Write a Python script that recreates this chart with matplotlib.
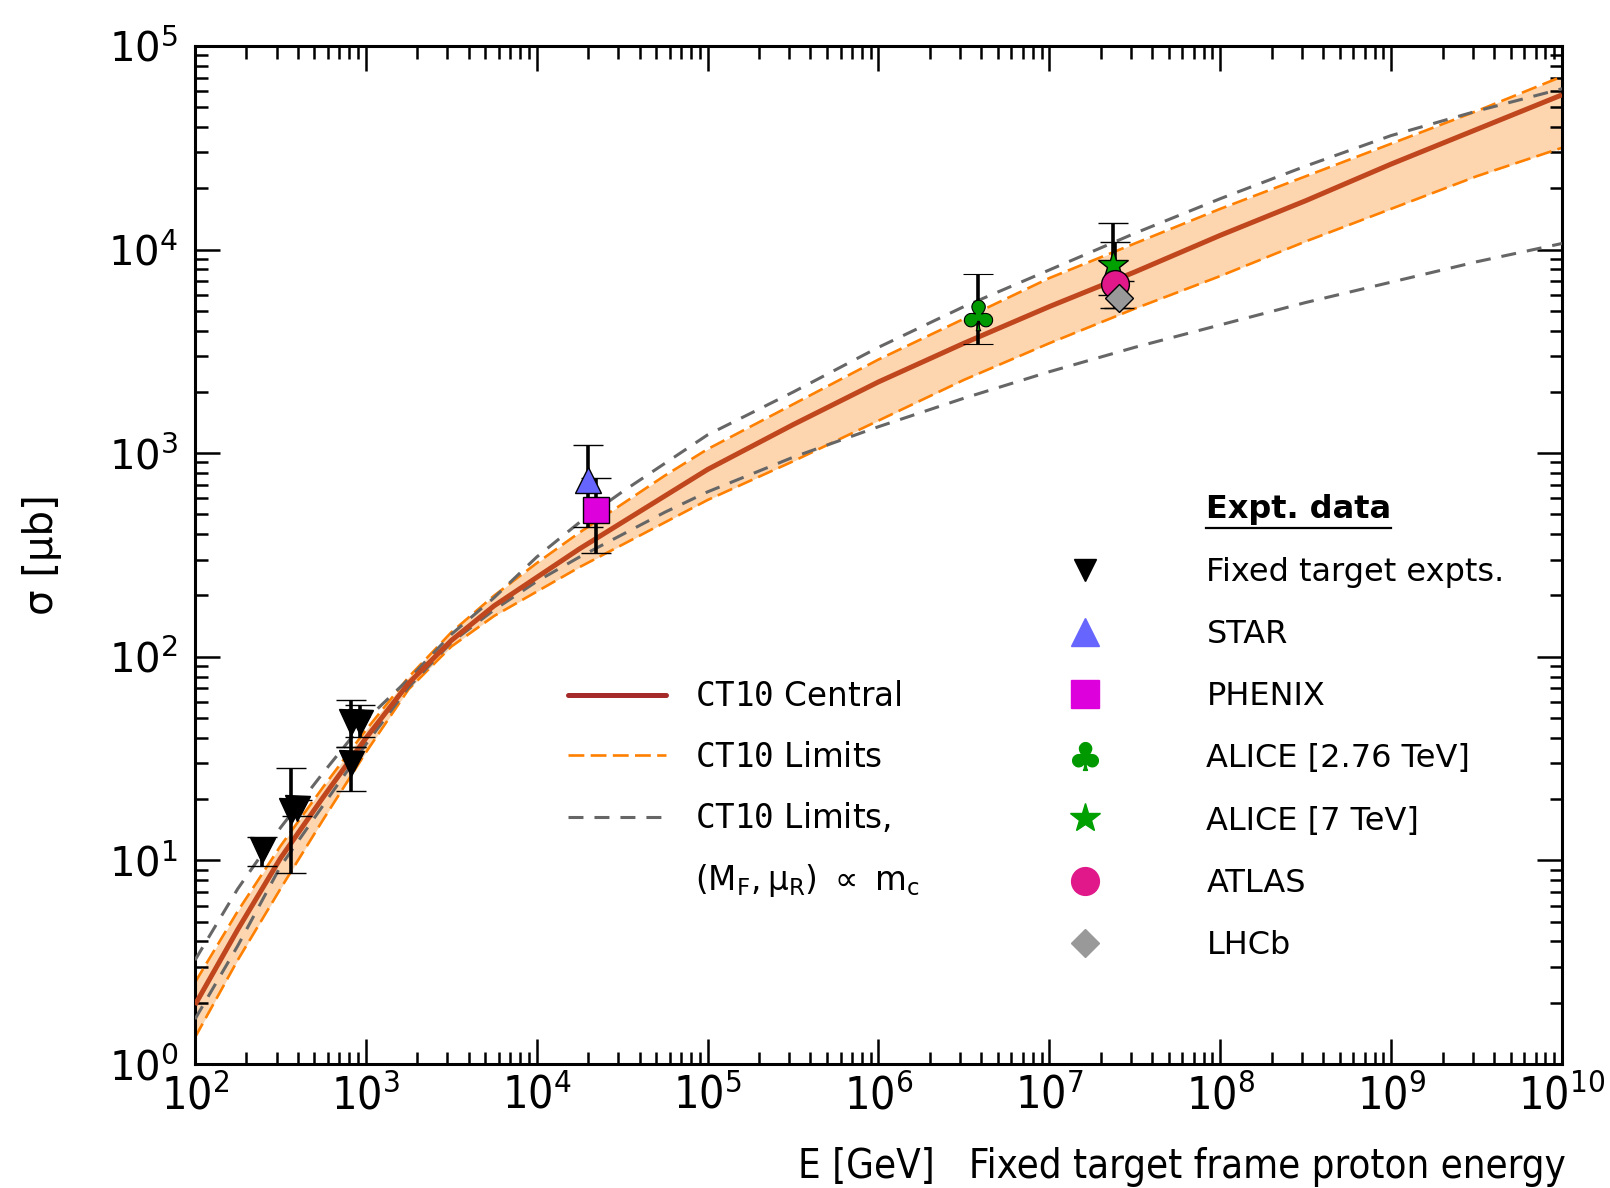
import os
import numpy as np
import matplotlib
matplotlib.use("Agg")
import matplotlib.pyplot as plt
from matplotlib import font_manager as fm
from matplotlib.lines import Line2D
from matplotlib.ticker import LogLocator, NullFormatter

# ---------------- data ----------------
log10_E = [2.0, 2.25, 2.5, 2.75, 3.0, 3.25, 3.5, 3.75, 4.0, 4.25, 4.5, 4.75, 5.0,
           5.5, 6.0, 6.5, 7.0, 7.5, 8.0, 8.5, 9.0, 9.5, 10.0]
log10_central = [0.29, 0.66, 1.01, 1.31, 1.60, 1.87, 2.08, 2.25, 2.39, 2.53, 2.66, 2.79, 2.92,
                 3.14, 3.35, 3.54, 3.72, 3.89, 4.07, 4.24, 4.42, 4.59, 4.76]
log10_lim_lo = [0.13, 0.51, 0.86, 1.20, 1.53, 1.84, 2.05, 2.20, 2.32, 2.44, 2.55, 2.66, 2.77,
                2.96, 3.16, 3.36, 3.54, 3.71, 3.87, 4.04, 4.20, 4.36, 4.50]
log10_lim_hi = [0.40, 0.75, 1.07, 1.36, 1.64, 1.90, 2.12, 2.30, 2.46, 2.61, 2.75, 2.89, 3.02,
                3.24, 3.46, 3.66, 3.86, 4.03, 4.20, 4.36, 4.52, 4.68, 4.85]
log10_mc_lo = [0.22, 0.58, 0.97, 1.27, 1.57, 1.85, 2.07, 2.23, 2.37, 2.49, 2.60, 2.71, 2.81,
               2.98, 3.13, 3.27, 3.40, 3.52, 3.63, 3.74, 3.84, 3.94, 4.03]
log10_mc_hi = [0.51, 0.86, 1.16, 1.43, 1.69, 1.89, 2.11, 2.29, 2.49, 2.66, 2.81, 2.95, 3.09,
               3.30, 3.52, 3.72, 3.90, 4.08, 4.25, 4.41, 4.56, 4.68, 4.79]

# fixed target experiments
ft_E = [247, 365, 395, 815, 815, 922]
ft_sigma = [11.2, 17.5, 18.0, 30.0, 48.0, 48.0]
ft_lo = [9.4, 8.7, 16.5, 22.0, 36.0, 40.4]
ft_hi = [13.0, 28.4, 19.8, 36.0, 61.0, 58.0]

# collider points: (E, sigma, low, high)
star_E, star_sigma, star_lo, star_hi = [2.0e4], [738.0], [435.0], [1096.0]
phenix_E, phenix_sigma, phenix_lo, phenix_hi = [2.22e4], [526.0], [324.0], [755.0]
alice276_E, alice276_sigma, alice276_lo, alice276_hi = [3.82e6], [4780.0], [3440.0], [7590.0]
alice7_E, alice7_sigma, alice7_lo, alice7_hi = [2.36e7], [8400.0], [5990.0], [13500.0]
atlas_E, atlas_sigma, atlas_lo, atlas_hi = [2.41e7], [6780.0], [5160.0], [10900.0]
lhcb_E, lhcb_sigma, lhcb_lo, lhcb_hi = [2.55e7], [5780.0], [5160.0], [7010.0]

x_ticks = [1e2, 1e3, 1e4, 1e5, 1e6, 1e7, 1e8, 1e9, 1e10]
x_tick_labels = [r"$\mathdefault{10^{%d}}$" % n for n in range(2, 11)]

# ---------------- fonts ----------------
def find_narrow_font():
    prefs = ["liberationsansnarrow-regular", "dejavusanscondensed.",
             "notosans-condensed.", "opensans_condensed-regular",
             "opensans-condensedregular", "robotocondensed-regular",
             "roboto_condensed-regular"]
    files = [f.fname for f in fm.fontManager.ttflist]
    for p in prefs:
        for fn in files:
            if os.path.basename(fn).lower().startswith(p):
                return fn
    bad = ("bold", "italic", "oblique", "light", "thin", "black", "medium", "semi", "extra")
    for fn in files:
        b = os.path.basename(fn).lower()
        if ("narrow" in b or "condensed" in b) and not any(w in b for w in bad):
            return fn
    return None

narrow = find_narrow_font()
if narrow:
    fp_x = fm.FontProperties(fname=narrow)
else:
    fp_x = fm.FontProperties(family="DejaVu Sans")

plt.rcParams["font.family"] = ["DejaVu Sans"]
plt.rcParams["mathtext.fontset"] = "dejavusans"

# ---------------- figure ----------------
fig = plt.figure(figsize=(16.10, 11.88), dpi=100)
ax = fig.add_axes([0.1211, 0.1044, 0.8491, 0.8569])
ax.set_xscale("log")
ax.set_yscale("log")
ax.set_xlim(1e2, 1e10)
ax.set_ylim(1e0, 1e5)

E = 10 ** np.array(log10_E)
c_mid = 10 ** np.array(log10_central)
c_lo = 10 ** np.array(log10_lim_lo)
c_hi = 10 ** np.array(log10_lim_hi)
m_lo = 10 ** np.array(log10_mc_lo)
m_hi = 10 ** np.array(log10_mc_hi)

ax.fill_between(E, c_lo, c_hi, color="#fdd6b0", lw=0, zorder=1)
orange_kw = dict(color="#ff8000", lw=1.9, dashes=(6, 2.4), zorder=2)
ax.plot(E, c_lo, **orange_kw)
ax.plot(E, c_hi, **orange_kw)
gray_kw = dict(color="#666666", lw=2.2, dashes=(4.9, 3.6), zorder=3)
ax.plot(E, m_lo, **gray_kw)
ax.plot(E, m_hi, **gray_kw)
ax.plot(E, c_mid, color="#c0461e", lw=3.6, zorder=4, solid_capstyle="butt",
        solid_joinstyle="round")

eb_kw = dict(ecolor="black", elinewidth=2.6, capsize=10.8, capthick=3.2, ls="none", zorder=6)

def draw_points(x, y, lo, hi, marker, ms, fc, mec="black", mew=1.0):
    x = np.array(x); y = np.array(y); lo = np.array(lo); hi = np.array(hi)
    ax.errorbar(x, y, yerr=[y - lo, hi - y], marker=marker, ms=ms, mfc=fc, mec=mec,
                mew=mew, **eb_kw)

draw_points(ft_E, ft_sigma, ft_lo, ft_hi, "v", 18, "black")
draw_points(star_E, star_sigma, star_lo, star_hi, "^", 19, "#6666ff")
draw_points(phenix_E, phenix_sigma, phenix_lo, phenix_hi, "s", 19, "#dd00dd")
draw_points(alice276_E, alice276_sigma, alice276_lo, alice276_hi, r"$\clubsuit$", 22, "#009900", mew=0.8)
draw_points(alice7_E, alice7_sigma, alice7_lo, alice7_hi, "*", 22, "#00a000", mew=1.0)
draw_points(atlas_E, atlas_sigma, atlas_lo, atlas_hi, "o", 20, "#e0188a")
draw_points(lhcb_E, lhcb_sigma, lhcb_lo, lhcb_hi, "D", 14, "#999999")

# ---------------- axes styling ----------------
for s in ax.spines.values():
    s.set_linewidth(2.2)
ax.xaxis.set_minor_locator(LogLocator(base=10, subs=np.arange(2, 10), numticks=100))
ax.yaxis.set_minor_locator(LogLocator(base=10, subs=np.arange(2, 10), numticks=100))
ax.xaxis.set_minor_formatter(NullFormatter())
ax.yaxis.set_minor_formatter(NullFormatter())
ax.tick_params(which="both", direction="in", top=True, right=True, width=1.8)
ax.tick_params(which="major", length=18)
ax.tick_params(which="minor", length=9)
ax.tick_params(axis="y", which="major", labelsize=29, pad=12)
ax.set_xticks(x_ticks, labels=x_tick_labels, fontproperties=fp_x)
for t in ax.get_xticklabels():
    t.set_fontsize(32)
ax.tick_params(axis="x", which="major", pad=7)

ax.set_ylabel("σ [μb]", fontsize=29)
ax.yaxis.set_label_coords(-0.097, 0.5)
xl = ax.set_xlabel("E [GeV]   Fixed target frame proton energy", loc="right",
                   fontproperties=fp_x)
xl.set_fontsize(28.8)
ax.xaxis.set_label_coords(1.003, -0.082)

# ---------------- legends ----------------
h1 = [Line2D([], [], color="#a52a2a", lw=3.6, solid_capstyle="round"),
      Line2D([], [], color="#ff8000", lw=1.9, dashes=(6, 2.4)),
      Line2D([], [], color="#666666", lw=2.2, dashes=(4.9, 3.6)),
      Line2D([], [], color="none", lw=0)]
l1 = [r"$\mathtt{CT10}$ Central", r"$\mathtt{CT10}$ Limits",
      r"$\mathtt{CT10}$ Limits,",
      r"$(\mathrm{M}_\mathrm{F},\mathrm{\mu}_\mathrm{R})\ \propto\ \mathrm{m}_\mathrm{c}$"]
leg1 = ax.legend(h1, l1, loc="upper left", bbox_to_anchor=(0.2729, 0.377),
                 frameon=False, fontsize=23.5, handlelength=3.0, handletextpad=0.9,
                 labelspacing=0.84, borderpad=0, borderaxespad=0)
ax.add_artist(leg1)

h2 = [Line2D([], [], ls="none", marker="v", ms=16.5, color="black"),
      Line2D([], [], ls="none", marker="^", ms=20, color="#6666ff"),
      Line2D([], [], ls="none", marker="s", ms=20, color="#dd00dd"),
      Line2D([], [], ls="none", marker=r"$\clubsuit$", ms=20, color="#009900"),
      Line2D([], [], ls="none", marker="*", ms=22, color="#00a000"),
      Line2D([], [], ls="none", marker="o", ms=20, color="#e0188a"),
      Line2D([], [], ls="none", marker="D", ms=14, color="#999999")]
l2 = ["Fixed target expts.", "STAR", "PHENIX", "ALICE [2.76 TeV]", "ALICE [7 TeV]",
      "ATLAS", "LHCb"]
leg2 = ax.legend(h2, l2, loc="upper left", bbox_to_anchor=(0.6277, 0.498),
                 frameon=False, fontsize=23, handlelength=2.0, handletextpad=2.8,
                 labelspacing=0.975, borderpad=0, borderaxespad=0)

title = ax.text(0.7395, 0.5442, "Expt. data", transform=ax.transAxes, fontsize=23,
                fontweight="bold", ha="left", va="center")
fig.canvas.draw()
bb = title.get_window_extent()
W, H = fig.bbox.width, fig.bbox.height
uy = (bb.y0 - 3) / H
fig.add_artist(Line2D([bb.x0 / W, bb.x1 / W], [uy, uy], color="black", lw=1.6))

fig.savefig("out.png", dpi=100)
